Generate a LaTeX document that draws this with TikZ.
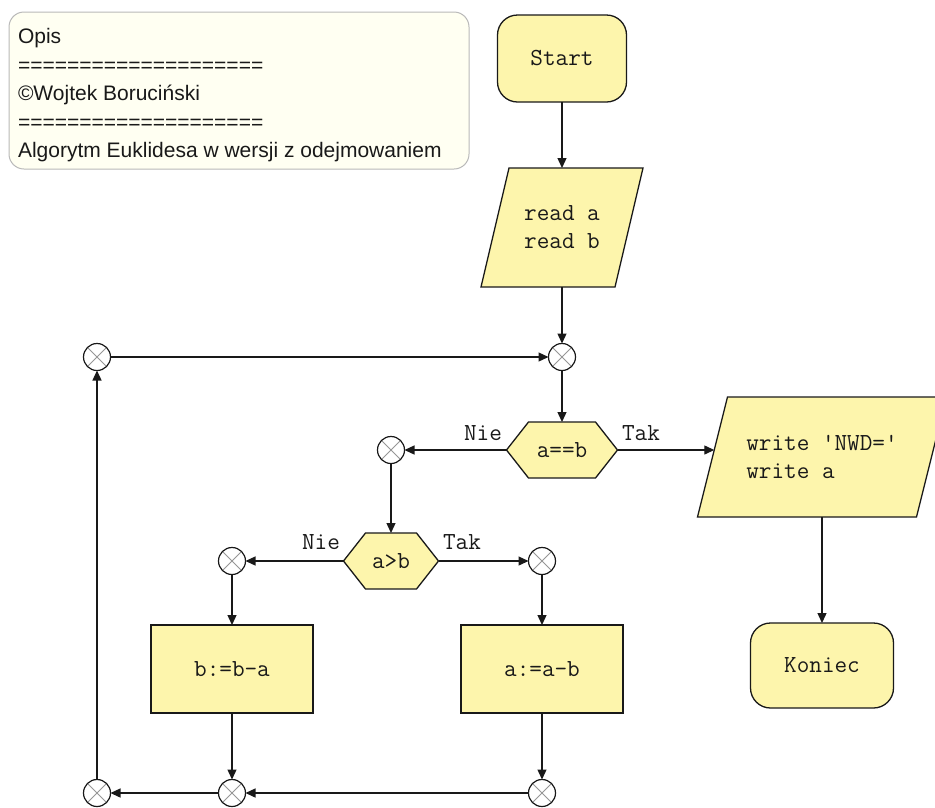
\documentclass[tikz,border=0pt]{standalone}
\usepackage{fontspec}
\setmainfont{Liberation Sans}
\usetikzlibrary{arrows.meta,calc,backgrounds}

\definecolor{boxfill}{RGB}{253,245,172}
\definecolor{notefill}{RGB}{255,255,242}
\definecolor{noteline}{RGB}{185,185,185}
\definecolor{ink}{RGB}{25,25,25}
\definecolor{crossgray}{RGB}{150,150,150}

\begin{document}
\begin{tikzpicture}[x=1pt,y=-1pt,
  every node/.style={inner sep=0pt, outer sep=0pt},
  flow/.style={draw=ink, line width=1.3pt, -{Triangle[length=10pt,width=9pt]}},
  code/.style={font=\ttfamily\fontsize{24.5}{28}\selectfont, text=ink},
  shapeline/.style={draw=ink, line width=1.3pt, fill=boxfill},
  terminal/.style={code, shapeline, rounded corners=20pt},
  process/.style={code, shapeline, minimum width=162pt, minimum height=88pt},
  holder/.style={code, align=left},
  conn/.style={circle, draw=ink, line width=1.2pt, fill=white, minimum size=27pt,
    path picture={\draw[crossgray, line width=0.9pt]
      (path picture bounding box.south west) -- (path picture bounding box.north east)
      (path picture bounding box.north west) -- (path picture bounding box.south east);}},
  label/.style={code}
]
\useasboundingbox (0,0) rectangle (935,807);

% description note
\node[draw=noteline, line width=1pt, fill=notefill, rounded corners=15pt,
      minimum width=460pt, minimum height=157pt] (note) at (239,90.5) {};
\node[anchor=north west, align=left, font=\fontsize{21}{28.5}\selectfont, text=ink]
  (notetext) at (18,28.4)
  {Opis\\====================\\©Wojtek Boruciński\\====================\\Algorytm Euklidesa w wersji z odejmowaniem};

% terminals
\node[terminal, minimum width=129pt, minimum height=87pt] (start) at (562,58.5) {Start};
\node[terminal, minimum width=143pt, minimum height=85pt] (stop) at (822,665.5) {Koniec};

% input / output (parallelograms drawn behind)
\node[holder, minimum width=162pt, minimum height=119pt] (rd) at (562,227.5) {read a\\read b};
\node[holder, minimum width=249pt, minimum height=120pt] (wr) at (822,457) {write 'NWD='\\write a};

% decisions (hexagons drawn behind)
\node[code, minimum width=111pt, minimum height=56pt] (d1) at (562,450) {a==b};
\node[code, minimum width=95pt, minimum height=56pt] (d2) at (391,561) {a>b};

% processes
\node[process] (bsub) at (232,669) {b:=b-a};
\node[process] (asub) at (542,669) {a:=a-b};

% connectors
\node[conn] (c1) at (562,357) {};
\node[conn] (cL) at (97,357) {};
\node[conn] (c2) at (391,450) {};
\node[conn] (c3) at (232,561) {};
\node[conn] (c4) at (542,561) {};
\node[conn] (c5) at (97,793) {};
\node[conn] (c6) at (232,793) {};
\node[conn] (c7) at (542,793) {};

% branch labels
\node[label] (l1n) at (483,433) {Nie};
\node[label] (l1t) at (641,433) {Tak};
\node[label] (l2n) at (321,542) {Nie};
\node[label] (l2t) at (462,542) {Tak};

\begin{scope}[on background layer]
  \filldraw[shapeline] (rd.south west) -- ($(rd.north west)+(28,0)$) -- (rd.north east)
    -- ($(rd.south east)+(-28,0)$) -- cycle;
  \filldraw[shapeline] (wr.south west) -- ($(wr.north west)+(30,0)$) -- (wr.north east)
    -- ($(wr.south east)+(-30,0)$) -- cycle;
  \filldraw[shapeline] (d1.west) -- ($(d1.north west)+(22,0)$) -- ($(d1.north east)+(-22,0)$)
    -- (d1.east) -- ($(d1.south east)+(-22,0)$) -- ($(d1.south west)+(22,0)$) -- cycle;
  \filldraw[shapeline] (d2.west) -- ($(d2.north west)+(22,0)$) -- ($(d2.north east)+(-22,0)$)
    -- (d2.east) -- ($(d2.south east)+(-22,0)$) -- ($(d2.south west)+(22,0)$) -- cycle;
\end{scope}

% entry point on the slanted side of the output block
\coordinate (wrin) at (714.3,450);

% flow lines
\draw[flow] (start.south) -- (rd.north);
\draw[flow] (rd.south) -- (c1.north);
\draw[flow] (c1.south) -- (d1.north);
\draw[flow] (d1.west) -- (c2.east);
\draw[flow] (d1.east) -- (wrin);
\draw[flow] (wr.south) -- (stop.north);
\draw[flow] (c2.south) -- (d2.north);
\draw[flow] (d2.west) -- (c3.east);
\draw[flow] (d2.east) -- (c4.west);
\draw[flow] (c3.south) -- (bsub.north);
\draw[flow] (c4.south) -- (asub.north);
\draw[flow] (bsub.south) -- (c6.north);
\draw[flow] (asub.south) -- (c7.north);
\draw[flow] (c7.west) -- (c6.east);
\draw[flow] (c6.west) -- (c5.east);
\draw[flow] (c5.north) -- (cL.south);
\draw[flow] (cL.east) -- (c1.west);
\end{tikzpicture}
\end{document}
